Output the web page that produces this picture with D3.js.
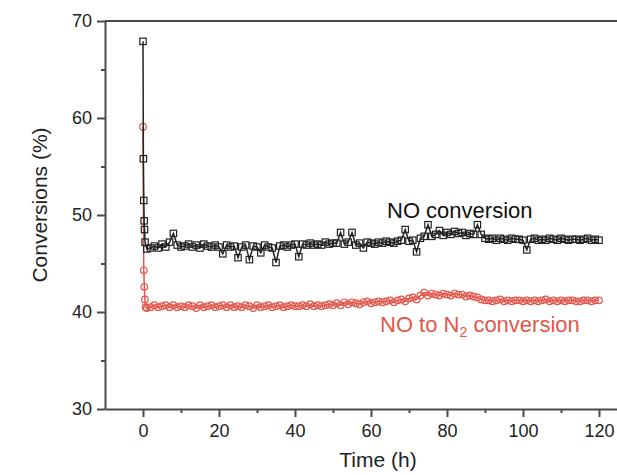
<!DOCTYPE html>
<html>
<head>
<meta charset="utf-8">
<script src="https://cdn.jsdelivr.net/npm/d3@7"></script>
<style>
  body { margin: 0; background: #fff; }
  svg { font-family: "Liberation Sans", Arial, sans-serif; }
</style>
</head>
<body>
<div id="chart"></div>
<script>
// start-up spike (h)
const noStartTime = [0, 0.1, 0.2, 0.3, 0.4, 0.55];
const noStartValues = [67.9, 55.8, 51.5, 49.4, 48.5, 47.2];
const n2StartTime = [0, 0.2, 0.35, 0.5, 0.7];
const n2StartValues = [59.1, 44.3, 42.6, 41.3, 40.5];

const hours = [1, 2, 3, 4, 5, 6, 7, 8, 9, 10, 11, 12, 13, 14, 15, 16, 17, 18, 19, 20,
  21, 22, 23, 24, 25, 26, 27, 28, 29, 30, 31, 32, 33, 34, 35, 36, 37, 38, 39, 40,
  41, 42, 43, 44, 45, 46, 47, 48, 49, 50, 51, 52, 53, 54, 55, 56, 57, 58, 59, 60,
  61, 62, 63, 64, 65, 66, 67, 68, 69, 70, 71, 72, 73, 74, 75, 76, 77, 78, 79, 80,
  81, 82, 83, 84, 85, 86, 87, 88, 89, 90, 91, 92, 93, 94, 95, 96, 97, 98, 99, 100,
  101, 102, 103, 104, 105, 106, 107, 108, 109, 110, 111, 112, 113, 114, 115, 116, 117, 118, 119, 120];

const noValues = [
  46.5, 46.6, 46.8, 46.6, 47.0, 46.7, 47.2, 48.1, 46.9, 46.7,
  46.8, 47.0, 46.7, 46.9, 46.6, 47.0, 46.8, 46.7, 46.9, 46.7,
  46.0, 46.9, 46.7, 46.8, 45.6, 46.7, 46.9, 45.4, 46.8, 46.7,
  46.1, 46.9, 46.7, 46.6, 45.1, 46.8, 46.9, 46.7, 46.9, 47.0,
  45.7, 47.0, 46.9, 47.1, 46.9, 47.0, 46.9, 47.2, 47.0, 47.1,
  47.1, 48.2, 47.0, 47.2, 48.2, 46.9, 47.1, 46.6, 47.2, 47.1,
  47.0, 47.2, 47.1, 47.3, 47.2, 47.1, 47.3, 47.4, 48.5, 47.3,
  47.4, 46.2, 47.6, 47.8, 49.0, 47.8, 48.0, 48.4, 47.9, 48.2,
  48.0, 48.3, 48.1, 48.2, 47.9, 48.1, 48.0, 49.0, 48.0, 47.6,
  47.5, 47.6, 47.4, 47.6, 47.5, 47.4, 47.6, 47.5, 47.5, 47.4,
  46.4, 47.5, 47.6, 47.4, 47.5, 47.4, 47.6, 47.5, 47.4, 47.6,
  47.5, 47.4, 47.5, 47.5, 47.4, 47.5, 47.6, 47.4, 47.5, 47.4
];

const n2Values = [
  40.4, 40.5, 40.7, 40.5, 40.6, 40.7, 40.5, 40.7, 40.5, 40.6,
  40.5, 40.7, 40.6, 40.4, 40.7, 40.5, 40.6, 40.7, 40.5, 40.6,
  40.7, 40.5, 40.7, 40.5, 40.6, 40.5, 40.7, 40.6, 40.4, 40.7,
  40.5, 40.6, 40.7, 40.5, 40.6, 40.7, 40.5, 40.6, 40.7, 40.6,
  40.6, 40.7, 40.6, 40.8, 40.6, 40.7, 40.6, 40.7, 40.8, 40.7,
  40.9, 40.7, 41.0, 40.8, 41.0, 40.9, 40.8, 41.0, 41.1, 40.9,
  41.0, 41.1, 41.0, 41.1, 41.2, 41.0, 41.2, 41.3, 41.1, 41.4,
  41.5, 41.3, 41.7, 42.0, 41.7, 41.9, 41.8, 41.7, 41.9, 41.8,
  41.7, 41.9, 41.8, 41.8, 41.6, 41.7, 41.6, 41.5, 41.3, 41.2,
  41.2, 41.1, 41.2, 41.3, 41.1, 41.2, 41.1, 41.2, 41.2, 41.1,
  41.2, 41.1, 41.2, 41.1, 41.2, 41.3, 41.1, 41.2, 41.1, 41.2,
  41.1, 41.2, 41.2, 41.1, 41.1, 41.2, 41.2, 41.1, 41.2, 41.2
];

const xTicks = [0, 20, 40, 60, 80, 100, 120];
const xMinor = [10, 30, 50, 70, 90, 110];
const yTicks = [30, 40, 50, 60, 70];
const yMinor = [35, 45, 55, 65];

const width = 617, height = 475;
const margin = { left: 105, right: 618, top: 21, bottom: 409 };

const svg = d3.select("#chart").append("svg")
  .attr("width", width)
  .attr("height", height);

const x = d3.scaleLinear().domain([-10, 125]).range([margin.left, margin.right]);
const y = d3.scaleLinear().domain([30, 70]).range([margin.bottom, margin.top]);

const axisColor = "#4a4a4a";

// frame: top line
svg.append("line")
  .attr("x1", margin.left).attr("x2", margin.right)
  .attr("y1", margin.top).attr("y2", margin.top)
  .attr("stroke", axisColor).attr("stroke-width", 2);

// bottom axis
svg.append("g")
  .attr("transform", `translate(0,${margin.bottom})`)
  .call(d3.axisBottom(x).tickValues(xTicks).tickSize(8).tickSizeOuter(0).tickPadding(7));
svg.append("g")
  .attr("transform", `translate(0,${margin.bottom})`)
  .call(d3.axisBottom(x).tickValues(xMinor).tickSize(4).tickSizeOuter(0).tickFormat(""))
  .select(".domain").remove();

// left axis
svg.append("g")
  .attr("transform", `translate(${margin.left},0)`)
  .call(d3.axisLeft(y).tickValues(yTicks).tickSize(8).tickSizeOuter(0).tickPadding(5));
svg.append("g")
  .attr("transform", `translate(${margin.left},0)`)
  .call(d3.axisLeft(y).tickValues(yMinor).tickSize(4).tickSizeOuter(0).tickFormat(""))
  .select(".domain").remove();

svg.selectAll(".domain, .tick line")
  .attr("stroke", axisColor).attr("stroke-width", 2);
svg.selectAll(".tick text")
  .attr("fill", "#222")
  .style("font-size", "18px");

svg.append("text")
  .attr("x", 378).attr("y", 467)
  .attr("text-anchor", "middle")
  .attr("fill", "#222")
  .style("font-size", "21px")
  .text("Time (h)");

svg.append("text")
  .attr("transform", "translate(47,205) rotate(-90)")
  .attr("text-anchor", "middle")
  .attr("fill", "#222")
  .style("font-size", "21px")
  .text("Conversions (%)");

// series
const noData = noStartTime.map((t, i) => ({ t, v: noStartValues[i] }))
  .concat(hours.map((t, i) => ({ t, v: noValues[i] })));
const n2Data = n2StartTime.map((t, i) => ({ t, v: n2StartValues[i] }))
  .concat(hours.map((t, i) => ({ t, v: n2Values[i] })));

const line = d3.line().x(d => x(d.t)).y(d => y(d.v));

const red = "#e2574c";

svg.append("path")
  .datum(n2Data)
  .attr("d", line)
  .attr("fill", "none")
  .attr("stroke", red)
  .attr("stroke-width", 1.5);

svg.append("g").selectAll("circle")
  .data(n2Data)
  .enter().append("circle")
  .attr("cx", d => x(d.t))
  .attr("cy", d => y(d.v))
  .attr("r", 3.3)
  .attr("fill", "none")
  .attr("stroke", red)
  .attr("stroke-width", 1.2);

svg.append("path")
  .datum(noData)
  .attr("d", line)
  .attr("fill", "none")
  .attr("stroke", "#222")
  .attr("stroke-width", 1.5);

svg.append("g").selectAll("rect")
  .data(noData)
  .enter().append("rect")
  .attr("x", d => x(d.t) - 3.2)
  .attr("y", d => y(d.v) - 3.2)
  .attr("width", 6.4)
  .attr("height", 6.4)
  .attr("fill", "none")
  .attr("stroke", "#222")
  .attr("stroke-width", 1.2);

// labels
svg.append("text")
  .attr("x", 387).attr("y", 218)
  .attr("fill", "#111")
  .style("font-size", "22px")
  .text("NO conversion");

const n2Label = svg.append("text")
  .attr("x", 380).attr("y", 332)
  .attr("fill", red)
  .style("font-size", "22px");
n2Label.append("tspan").text("NO to N");
n2Label.append("tspan").attr("dy", 5).style("font-size", "14px").text("2");
n2Label.append("tspan").attr("dy", -5).text(" conversion");
</script>
</body>
</html>
